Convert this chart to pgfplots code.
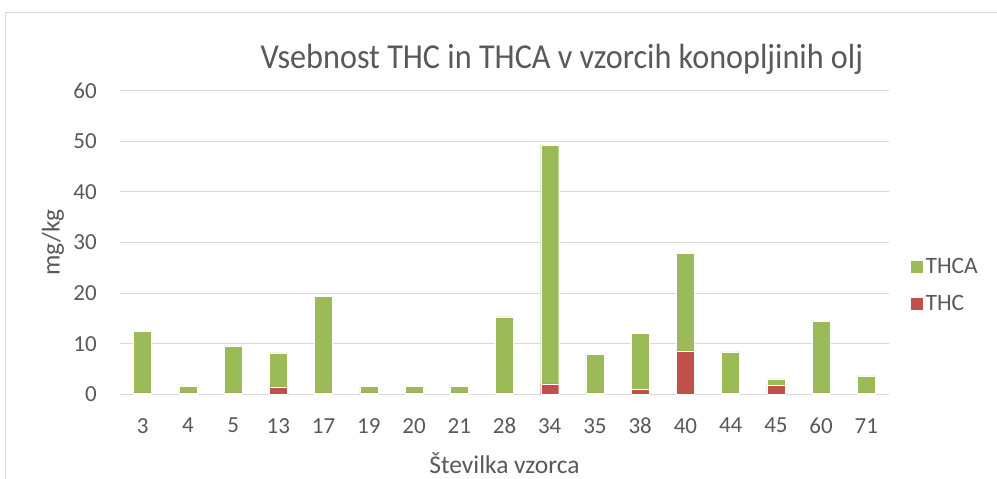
\documentclass[border=0pt]{standalone}
\usepackage{fontspec}
\setmainfont{Carlito}
\usepackage{graphicx}
\usepackage{pgfplots}
\pgfplotsset{compat=1.18}
\definecolor{thca}{HTML}{9BBB59}
\definecolor{thc}{HTML}{C0504D}
\definecolor{gridc}{HTML}{D9D9D9}
\definecolor{txt}{HTML}{595959}
\begin{document}
\begin{tikzpicture}
\path[use as bounding box] (0pt,0pt) rectangle (997pt,-479pt);
\draw[gridc, line width=1pt] (5pt,-479pt) -- (5pt,-12pt) -- (997pt,-12pt);
\begin{axis}[
  at={(120pt,-394.5pt)}, anchor=south west,
  scale only axis, width=769pt, height=304pt,
  ybar stacked, bar width=18pt,
  xmin=-0.5, xmax=16.5, ymin=0, ymax=60,
  enlarge x limits=false,
  xtick={0,...,16},
  xticklabels={3,4,5,13,17,19,20,21,28,34,35,38,40,44,45,60,71},
  ytick={0,10,...,60},
  ymajorgrids, grid style={gridc, line width=1.3pt},
  axis line style={draw=none},
  major tick length=0pt,
  tick label style={font=\fontsize{23}{27}\selectfont, text=txt, inner sep=0pt},
  /pgf/number format/assume math mode=true,
  yticklabel style={xshift=-23pt},
  xticklabel style={yshift=-23.5pt},
  reverse legend,
  legend style={draw=none, fill=none, font=\fontsize{23.5}{28}\selectfont, text=txt,
    at={(1.0273,0.3594)}, anchor=west, inner sep=0pt, row sep=16pt,
    legend cell align=left},
  legend image code/.code={\fill[#1] (0pt,-6.5pt) rectangle (13pt,6.5pt);},
]
\addplot[fill=thc, draw=white, line width=0.4pt] coordinates {
(0,0.3) (1,0.3) (2,0.3) (3,1.5) (4,0.3) (5,0.3) (6,0.3) (7,0.3) (8,0.3)
(9,2.1) (10,0.3) (11,1.0) (12,8.6) (13,0.3) (14,1.8) (15,0.3) (16,0.3)};
\addlegendentry{THC}
\addplot[fill=thca, draw=white, line width=0.4pt] coordinates {
(0,12.1) (1,1.3) (2,9.3) (3,6.7) (4,19.1) (5,1.3) (6,1.3) (7,1.3) (8,15.0)
(9,47.1) (10,7.6) (11,11.1) (12,19.3) (13,8.1) (14,1.3) (15,14.1) (16,3.4)};
\addlegendentry{THCA}
\end{axis}
\node[anchor=base, text=txt, font=\fontsize{35}{42}\selectfont] at (562pt,-68.5pt) {\scalebox{0.92}[1]{Vsebnost THC in THCA v vzorcih konopljinih olj}};
\node[anchor=base, text=txt, font=\fontsize{25.5}{30}\selectfont] at (504.5pt,-473pt) {Številka vzorca};
\node[rotate=90, text=txt, font=\fontsize{25.5}{30}\selectfont] at (53pt,-242.5pt) {mg/kg};
\end{tikzpicture}
\end{document}
